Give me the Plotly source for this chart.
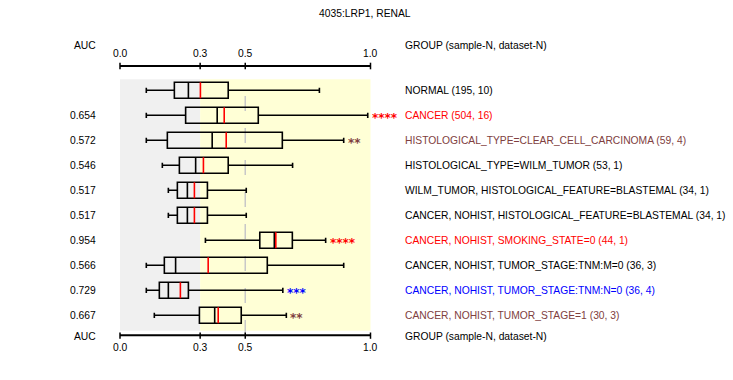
import plotly.graph_objects as go

# ---------------- data ----------------
groups = [
    "NORMAL (195, 10)",
    "CANCER (504, 16)",
    "HISTOLOGICAL_TYPE=CLEAR_CELL_CARCINOMA (59, 4)",
    "HISTOLOGICAL_TYPE=WILM_TUMOR (53, 1)",
    "WILM_TUMOR, HISTOLOGICAL_FEATURE=BLASTEMAL (34, 1)",
    "CANCER, NOHIST, HISTOLOGICAL_FEATURE=BLASTEMAL (34, 1)",
    "CANCER, NOHIST, SMOKING_STATE=0 (44, 1)",
    "CANCER, NOHIST, TUMOR_STAGE:TNM:M=0 (36, 3)",
    "CANCER, NOHIST, TUMOR_STAGE:TNM:N=0 (36, 4)",
    "CANCER, NOHIST, TUMOR_STAGE=1 (30, 3)",
]
auc_labels = ["", "0.654", "0.572", "0.546", "0.517", "0.517", "0.954", "0.566", "0.729", "0.667"]
stars = ["", "****", "**", "", "", "", "****", "", "***", "**"]
label_colors = ["#000000", "#FF0000", "#804040", "#000000", "#000000",
                "#000000", "#FF0000", "#000000", "#0000FF", "#804040"]

lower_whisker = [0.105, 0.105, 0.105, 0.169, 0.193, 0.193, 0.341, 0.105, 0.105, 0.137]
q1_values     = [0.217, 0.262, 0.189, 0.237, 0.229, 0.229, 0.558, 0.177, 0.157, 0.317]
median_values = [0.273, 0.388, 0.368, 0.302, 0.269, 0.269, 0.616, 0.222, 0.193, 0.378]
mean_values   = [0.321, 0.416, 0.424, 0.333, 0.297, 0.297, 0.622, 0.352, 0.241, 0.392]
q3_values     = [0.432, 0.552, 0.648, 0.432, 0.349, 0.349, 0.688, 0.588, 0.273, 0.484]
upper_whisker = [0.796, 0.989, 0.893, 0.689, 0.504, 0.504, 0.821, 0.893, 0.650, 0.664]

tick_vals = [0.0, 0.32, 0.5, 1.0]
tick_labels = ["0.0", "0.3", "0.5", "1.0"]
threshold = 0.32
reference_line = 0.5
title_text = "4035:LRP1, RENAL"
auc_header = "AUC"
group_header = "GROUP (sample-N, dataset-N)"

# ---------------- geometry ----------------
W, H = 733, 380
X0_PX, PX_PER_UNIT = 120.0, 250.5
ROW0_PX, ROW_PX = 90.3, 25.0


def xd(px):
    return (px - X0_PX) / PX_PER_UNIT


def yd(py):
    return (py - ROW0_PX) / ROW_PX


FONT = "Liberation Sans, Arial, sans-serif"
FS = 10.3
rows = list(range(len(groups)))
BOX_W = 0.64

fig = go.Figure()

fig.add_trace(go.Box(
    y=rows, orientation="h",
    q1=q1_values, median=median_values, q3=q3_values,
    lowerfence=lower_whisker, upperfence=upper_whisker,
    width=BOX_W, whiskerwidth=0.33,
    fillcolor="rgba(0,0,0,0)", line=dict(color="black", width=1.6),
    boxpoints=False, hoverinfo="skip", showlegend=False,
))

mx, my = [], []
for r, m in zip(rows, mean_values):
    mx += [m, m, None]
    my += [r - BOX_W / 2, r + BOX_W / 2, None]
fig.add_trace(go.Scatter(x=mx, y=my, mode="lines",
                         line=dict(color="#FF0000", width=1.6),
                         hoverinfo="skip", showlegend=False))

shapes = []
y_top_bg, y_bot_bg = yd(79.3), yd(330.7)
shapes.append(dict(type="rect", xref="x", yref="y", x0=0, x1=threshold,
                   y0=y_top_bg, y1=y_bot_bg, fillcolor="#F0F0F0",
                   line=dict(width=0), layer="below"))
shapes.append(dict(type="rect", xref="x", yref="y", x0=threshold, x1=1.0,
                   y0=y_top_bg, y1=y_bot_bg, fillcolor="#FFFFD6",
                   line=dict(width=0), layer="below"))
shapes.append(dict(type="line", xref="x", yref="y", x0=reference_line, x1=reference_line,
                   y0=yd(96), y1=yd(334), line=dict(color="#C8C8C8", width=1.5, dash="15px,17px"),
                   layer="below"))

annotations = []
for axis_py, tick_lo, tick_hi, lab_py in [(66, 62.7, 69.3, 53.5), (335.3, 332.5, 338.8, 347)]:
    shapes.append(dict(type="line", xref="x", yref="y", x0=tick_vals[0], x1=tick_vals[-1],
                       y0=yd(axis_py), y1=yd(axis_py), line=dict(color="black", width=2)))
    for tv, tl in zip(tick_vals, tick_labels):
        shapes.append(dict(type="line", xref="x", yref="y", x0=tv, x1=tv,
                           y0=yd(tick_lo), y1=yd(tick_hi), line=dict(color="black", width=1.5)))
        annotations.append(dict(x=tv, y=yd(lab_py), xref="x", yref="y", text=tl,
                                showarrow=False, xanchor="center", yanchor="middle",
                                font=dict(family=FONT, size=FS, color="black")))

for hy in [45, 336]:
    annotations.append(dict(x=xd(98), y=yd(hy), xref="x", yref="y", text=auc_header,
                            showarrow=False, xanchor="right", yanchor="middle",
                            font=dict(family=FONT, size=FS, color="black")))
    annotations.append(dict(x=xd(403), y=yd(hy), xref="x", yref="y", text=group_header,
                            showarrow=False, xanchor="left", yanchor="middle",
                            font=dict(family=FONT, size=FS, color="black")))

annotations.append(dict(x=xd(364.5), y=yd(13.5), xref="x", yref="y", text=title_text,
                        showarrow=False, xanchor="center", yanchor="middle",
                        font=dict(family=FONT, size=FS, color="black")))

for r in rows:
    if auc_labels[r]:
        annotations.append(dict(x=xd(98), y=r, xref="x", yref="y", text=auc_labels[r],
                                showarrow=False, xanchor="right", yanchor="middle",
                                font=dict(family=FONT, size=FS, color="black")))
    annotations.append(dict(x=xd(403), y=r, xref="x", yref="y", text=groups[r],
                            showarrow=False, xanchor="left", yanchor="middle",
                            font=dict(family=FONT, size=FS, color=label_colors[r])))
    if stars[r]:
        annotations.append(dict(x=upper_whisker[r], y=r, xref="x", yref="y",
                                text="<b>" + stars[r] + "</b>",
                                showarrow=False, xanchor="left", yanchor="middle",
                                xshift=2, yshift=-3,
                                font=dict(family="DejaVu Sans", size=12, color=label_colors[r])))

fig.update_layout(
    width=W, height=H, autosize=False,
    margin=dict(l=0, r=0, t=0, b=0),
    paper_bgcolor="white", plot_bgcolor="white",
    xaxis=dict(range=[xd(0), xd(W)], visible=False, fixedrange=True),
    yaxis=dict(range=[yd(H), yd(0)], visible=False, fixedrange=True),
    shapes=shapes, annotations=annotations,
    showlegend=False,
)

fig.write_html("out.html", config={"displayModeBar": False},
               post_script="document.body.style.margin='0';document.body.style.padding='0';")
